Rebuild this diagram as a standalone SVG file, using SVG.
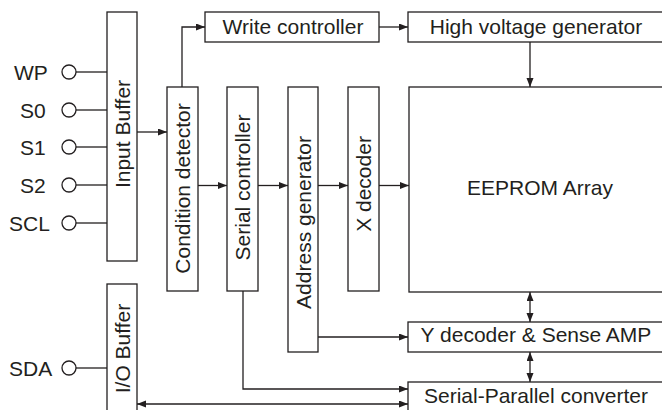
<svg xmlns="http://www.w3.org/2000/svg" width="662" height="410" viewBox="0 0 662 410">
<style>
.b{fill:#fff;stroke:#231f20;stroke-width:1.3}
.t{font-family:"Liberation Sans",Arial,sans-serif;font-size:21px;fill:#231f20}
.m{text-anchor:middle}
.c{fill:none;stroke:#231f20;stroke-width:1.3}
.a{marker-end:url(#ah)}
.d{marker-end:url(#ah);marker-start:url(#ah)}
</style>
<defs>
<marker id="ah" markerUnits="userSpaceOnUse" markerWidth="10" markerHeight="8" refX="9" refY="3.5" orient="auto-start-reverse">
<path d="M0,0 L9,3.5 L0,7 z" fill="#231f20"/>
</marker>
</defs>
<rect width="662" height="410" fill="#fff"/>
<g id="pins">
<g id="pin-wp"><text class="t" x="14" y="79.5">WP</text><circle class="b" cx="69" cy="72" r="7"/><line class="c" x1="76" y1="72" x2="107" y2="72"/></g>
<g id="pin-s0"><text class="t" x="20" y="117.5">S0</text><circle class="b" cx="69" cy="110" r="7"/><line class="c" x1="76" y1="110" x2="107" y2="110"/></g>
<g id="pin-s1"><text class="t" x="20" y="154.5">S1</text><circle class="b" cx="69" cy="147" r="7"/><line class="c" x1="76" y1="147" x2="107" y2="147"/></g>
<g id="pin-s2"><text class="t" x="20" y="192.5">S2</text><circle class="b" cx="69" cy="185" r="7"/><line class="c" x1="76" y1="185" x2="107" y2="185"/></g>
<g id="pin-scl"><text class="t" x="9" y="230.5">SCL</text><circle class="b" cx="69" cy="223" r="7"/><line class="c" x1="76" y1="223" x2="107" y2="223"/></g>
<g id="pin-sda"><text class="t" x="9" y="375.5">SDA</text><circle class="b" cx="69" cy="368" r="7"/><line class="c" x1="76" y1="368" x2="107" y2="368"/></g>
</g>
<g id="input-buffer"><rect class="b" x="107" y="12" width="30" height="249"/><text class="t m" transform="translate(122,134) rotate(-90)" y="7.5">Input Buffer</text></g>
<g id="io-buffer"><rect class="b" x="107" y="284" width="30" height="140"/><text class="t m" transform="translate(122,348.5) rotate(-90)" y="7.5">I/O Buffer</text></g>
<g id="condition-detector"><rect class="b" x="167" y="87" width="31" height="204"/><text class="t m" transform="translate(182.5,188.5) rotate(-90)" y="7.5">Condition detector</text></g>
<g id="serial-controller"><rect class="b" x="227" y="87" width="31" height="204"/><text class="t m" transform="translate(242.5,187.5) rotate(-90)" y="7.5">Serial controller</text></g>
<g id="address-generator"><rect class="b" x="288" y="87" width="30" height="265"/><text class="t m" transform="translate(303,222.5) rotate(-90)" y="7.5">Address generator</text></g>
<g id="x-decoder"><rect class="b" x="348" y="87" width="31" height="204"/><text class="t m" transform="translate(363.5,184) rotate(-90)" y="7.5">X decoder</text></g>
<g id="write-controller"><rect class="b" x="205" y="12" width="174" height="30"/><text class="t m" x="293" y="34">Write controller</text></g>
<g id="hv-generator"><rect class="b" x="408" y="12" width="258" height="30"/><text class="t m" x="536" y="34">High voltage generator</text></g>
<g id="eeprom"><rect class="b" x="409" y="87" width="257" height="205"/><text class="t m" x="540" y="195">EEPROM Array</text></g>
<g id="y-decoder"><rect class="b" x="408" y="322" width="258" height="30"/><text class="t m" x="536" y="342">Y decoder &amp; Sense AMP</text></g>
<g id="sp-converter"><rect class="b" x="408" y="382" width="258" height="40"/><text class="t m" x="536" y="403">Serial-Parallel converter</text></g>
<g id="connectors">
<line class="c a" x1="137" y1="132" x2="167" y2="132"/>
<path class="c a" d="M182,87 V27 H205"/>
<line class="c a" x1="379" y1="27" x2="408" y2="27"/>
<line class="c a" x1="530" y1="42" x2="530" y2="87"/>
<line class="c a" x1="198" y1="185.5" x2="227" y2="185.5"/>
<line class="c a" x1="258" y1="185.5" x2="288" y2="185.5"/>
<line class="c a" x1="318" y1="185.5" x2="348" y2="185.5"/>
<line class="c a" x1="379" y1="185.5" x2="409" y2="185.5"/>
<line class="c d" x1="530" y1="292" x2="530" y2="322"/>
<line class="c d" x1="530" y1="352" x2="530" y2="382"/>
<line class="c a" x1="318" y1="337" x2="408" y2="337"/>
<path class="c a" d="M243,291 V389 H408"/>
<line class="c d" x1="137" y1="404" x2="408" y2="404"/>
</g>
</svg>
